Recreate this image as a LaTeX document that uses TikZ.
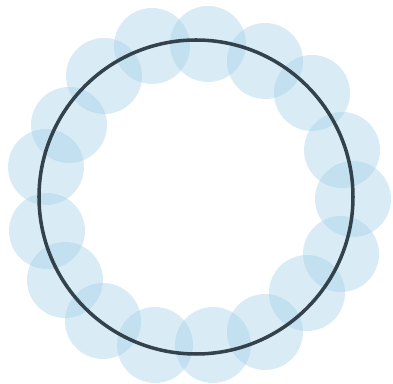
\documentclass[tikz,border=0pt]{standalone}
\usepackage{xcolor}
\usepackage{tikz}
\definecolor{ringdark}{RGB}{38,52,62}
\definecolor{bubble}{RGB}{160,207,232}

\begin{document}
\begin{tikzpicture}[x=0.02cm, y=-0.02cm]
  \useasboundingbox (0, 0) rectangle (393, 384);
  \foreach \x/\y in {152/46, 208/44, 265/61, 312/93, 342/150, 353/199, 341/254, 307/293, 265/332, 213/345, 155/345, 103/321, 65/280, 47/231, 46/167, 69/125, 104/76}
    \fill[bubble, opacity=.4] (\x, \y) circle (38);
  \draw[ringdark, opacity=.92, line width=2pt] (196, 197) circle (157);
\end{tikzpicture}
\end{document}
